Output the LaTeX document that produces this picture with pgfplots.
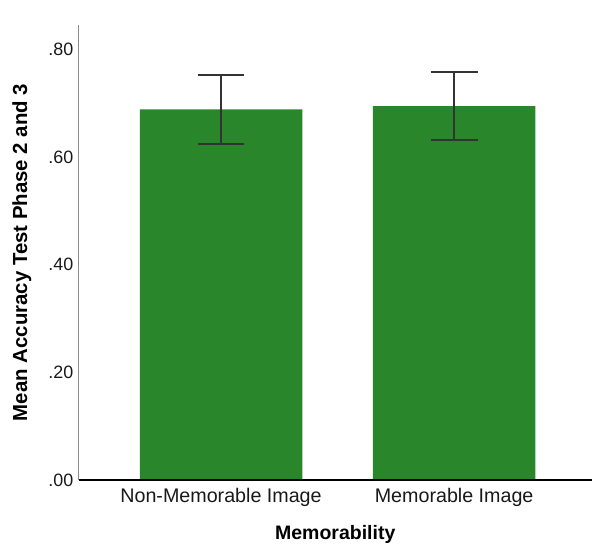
\documentclass[border=0pt]{standalone}
\usepackage{pgfplots}
\pgfplotsset{compat=1.18}
\usepackage{fontspec}
\setmainfont{Liberation Sans}
\definecolor{barg}{RGB}{42,134,42}
\begin{document}
\begin{tikzpicture}
\begin{axis}[
  scale only axis, width=514bp, height=456bp,
  xmin=-0.61, xmax=1.59, ymin=0, ymax=0.846,
  axis x line=bottom, axis y line=left,
  x axis line style={-, black, line width=2.6bp},
  y axis line style={-, black!45, line width=1.3bp},
  axis on top,
  major tick length=0pt,
  ytick={0,0.2,0.4,0.6,0.8}, yticklabels={.00,.20,.40,.60,.80},
  xtick={0,1}, xticklabels={Non-Memorable Image, Memorable Image},
  /pgf/number format/assume math mode=true,
  tick label style={text=black!90},
  yticklabel style={xshift=-2bp, font=\fontsize{18}{20}\selectfont},
  xticklabel style={yshift=-5bp, font=\fontsize{19.8}{22}\selectfont},
  ylabel={\bfseries Mean Accuracy Test Phase 2 and 3},
  ylabel style={at={(axis description cs:-0.111,0.5)}, anchor=center, font=\fontsize{20.5}{23}\selectfont},
  xlabel={\bfseries Memorability},
  xlabel style={at={(axis description cs:0.5,-0.1206)}, anchor=center, font=\fontsize{19.6}{22}\selectfont},
  ybar, bar width=0.697,
]
\addplot[fill=barg, draw=none,
  error bars/.cd, y dir=both, y explicit,
  error bar style={line width=1.8bp, black!80},
  error mark options={rotate=90, mark size=23.5bp, line width=1.8bp, black!80}]
  coordinates {(0,0.689) +- (0,0.064) (1,0.695) +- (0,0.063)};
\end{axis}
\path (current axis.south west) ++(-79bp,-65bp);
\path (current axis.north east) ++(0,25bp);
\end{tikzpicture}
\end{document}
